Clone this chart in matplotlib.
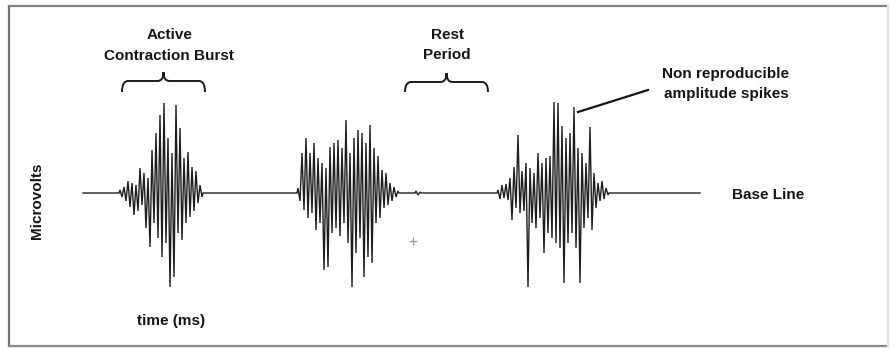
import numpy as np
import matplotlib
matplotlib.use("Agg")
import matplotlib.pyplot as plt
from matplotlib.path import Path
from matplotlib.patches import PathPatch
from matplotlib.lines import Line2D

plt.rcParams['font.family'] = ['Liberation Sans', 'DejaVu Sans']

# recording span of the trace (ms)
base_start, base_end = 0, 617

# burst windows (ms) and successive peak values (microvolts)
burst1_window = (37, 119)
burst1_peaks = [3, -4, 6, -8, 12, -14, 10, -22, 8, -18, 25, -12, 20, -35, 15,
                -54, 43, -30, 60, -45, 78, -64, 90, -50, 55, -94, 40, -84, 88,
                -40, 65, -47, 35, -30, 41, -24, 26, -18, 22, -10, 8, -4]

burst2_window = (215, 315)
burst2_peaks = [5, -8, 40, -17, 55, -25, 40, -20, 50, -37, 35, -30, 30, -77,
                25, -74, 46, -40, 50, -35, 53, -43, 45, -30, 73, -50, 40, -94,
                55, -60, 63, -45, 60, -84, 50, -64, 68, -70, 45, -30, 37, -25,
                23, -15, 20, -12, 10, -8, 6, -4, 2]

burst3_window = (415, 525)
burst3_peaks = [3, -6, 8, -5, 9, -7, 15, -27, 26, -15, 58, -20, 22, -18, 30,
                -94, 25, -30, 20, -35, 40, -25, 30, -60, 35, -40, 37, -45, 91,
                -50, 90, -55, 67, -90, 55, -50, 60, -40, 86, -55, 45, -90, 40,
                -35, 30, -25, 66, -37, 20, -15, 10, -8, 12, -6, 5, -2]

# small artefact during the rest period
rest_blip_window = (333, 337)
rest_blip_peaks = [2, -2, 1]
stray_mark = (330, -48)

bursts = [(burst1_window, burst1_peaks),
          (rest_blip_window, rest_blip_peaks),
          (burst2_window, burst2_peaks),
          (burst3_window, burst3_peaks)]
bursts.sort(key=lambda b: b[0][0])

t = [base_start]
v = [0]
for (w0, w1), peaks in bursts:
    t += [w0 - 1] + list(np.linspace(w0, w1, len(peaks))) + [w1 + 1]
    v += [0] + list(peaks) + [0]
t.append(base_end)
v.append(0)

fig = plt.figure(figsize=(8.96, 3.49), dpi=100)
ax = fig.add_axes([0, 0, 1, 1])
ax.set_xlim(-83, 813)
ax.set_ylim(-156, 193)
ax.axis('off')

ax.plot(t, v, color='#1e1e1e', lw=1.0, solid_joinstyle='miter')
ax.plot(*stray_mark, marker='+', color='#999999', ms=6, mew=0.9)

# outer frame
for xs, ys, c in [([0.010, 0.010], [0.009, 0.983], '#707070'),
                  ([0.010, 0.991], [0.983, 0.983], '#808080'),
                  ([0.010, 0.991], [0.009, 0.009], '#8a8a8a'),
                  ([0.991, 0.991], [0.009, 0.983], '#e2e2e2')]:
    fig.add_artist(Line2D(xs, ys, color=c, lw=1.6, transform=fig.transFigure))


def brace(ax, x0, x1, yb, yl, yt, r=6):
    xm = (x0 + x1) / 2
    verts = [(x0, yb), (x0, yl), (x0 + r, yl),
             (xm - r, yl), (xm, yl), (xm, yt),
             (xm, yl), (xm + r, yl),
             (x1 - r, yl), (x1, yl), (x1, yb)]
    codes = [Path.MOVETO, Path.CURVE3, Path.CURVE3,
             Path.LINETO, Path.CURVE3, Path.CURVE3,
             Path.CURVE3, Path.CURVE3,
             Path.LINETO, Path.CURVE3, Path.CURVE3]
    ax.add_patch(PathPatch(Path(verts, codes), fill=False,
                           edgecolor='#1a1a1a', lw=1.4))


brace(ax, 39, 122, 101, 112, 121)
brace(ax, 322, 405, 101, 111, 120)

txt = dict(fontsize=11, fontweight='bold', color='#151515',
           ha='center', va='center')
ax.text(87, 158, 'Active', **txt)
ax.text(86, 137, 'Contraction Burst', **txt)
ax.text(364, 158, 'Rest', **txt)
ax.text(364, 138, 'Period', **txt)
ax.text(642, 119, 'Non reproducible', **txt)
ax.text(643, 99, 'amplitude spikes', **txt)
ax.text(649, -2, 'Base Line', **{**txt, 'ha': 'left'})
ax.text(-46, -8, 'Microvolts', rotation=90, **txt)
ax.text(88, -128, 'time (ms)', **txt)

ax.plot([495, 565], [81, 103], color='#151515', lw=1.6)

fig.savefig('out.png', dpi=100)
